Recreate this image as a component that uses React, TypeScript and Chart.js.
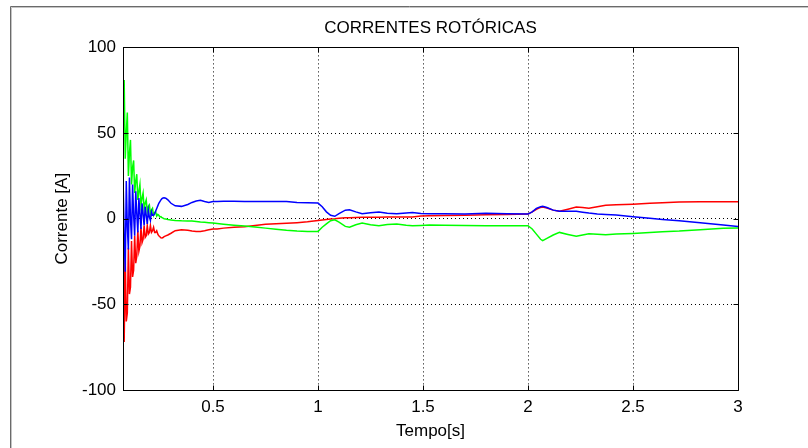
import React, { useEffect, useRef } from "react";
import { Chart, registerables } from "chart.js";

Chart.register(...registerables);

const titulo = "CORRENTES ROTÓRICAS";
const tituloX = "Tempo[s]";
const tituloY = "Corrente [A]";

const xTicks = [0.5, 1, 1.5, 2, 2.5, 3];
const yTicks = [-100, -50, 0, 50, 100];

const tempo = [
  0.072, 0.077, 0.082, 0.087, 0.092, 0.097, 0.102, 0.107, 0.112, 0.117,
  0.122, 0.127, 0.132, 0.137, 0.142, 0.147, 0.152, 0.157, 0.162, 0.167,
  0.172, 0.177, 0.182, 0.187, 0.192, 0.197, 0.202, 0.207, 0.212, 0.217,
  0.222, 0.227, 0.232, 0.237, 0.242, 0.247, 0.252, 0.257, 0.262, 0.267,
  0.275, 0.285, 0.3, 0.32, 0.35, 0.38, 0.4, 0.42, 0.44, 0.46,
  0.48, 0.5, 0.52, 0.55, 0.6, 0.65, 0.7, 0.75, 0.8, 0.85,
  0.9, 0.95, 1.0, 1.02, 1.04, 1.06, 1.08, 1.1, 1.13, 1.15,
  1.18, 1.21, 1.25, 1.29, 1.33, 1.375, 1.42, 1.45, 1.49, 1.53,
  1.6, 1.7, 1.8, 1.9, 2.0, 2.02, 2.04, 2.06, 2.07, 2.09,
  2.12, 2.15, 2.19, 2.23, 2.26, 2.29, 2.33, 2.37, 2.42, 2.5,
  2.58, 2.64, 2.72, 2.82, 2.93, 3.0,
];

// vermelho
const faseA = [
  -8, -72, -22, -60, -55, -17, -44, -40, -13, -34,
  -30, -10, -26, -22, -7, -19, -16, -5, -14, -12,
  -4, -11, -10, -4, -9, -8, -4, -8, -7, -5,
  -8, -8, -7, -9, -10, -10.5, -11.2, -11.3, -11, -10.5,
  -10, -9.5, -8.5, -7, -6.4, -6.8, -7.2, -7.4, -7.4, -7,
  -6.5, -6, -6, -5.5, -5, -4.7, -4, -3.3, -3, -2.7,
  -2.3, -1.8, -1, -0.7, -0.4, -0.2, 0, 0.3, 0.5, 0.6,
  0.7, 0.8, 0.9, 0.9, 1, 1, 1, 1, 1.6, 1.7,
  1.8, 2, 2.3, 2.5, 2.7, 4, 5.5, 6.6, 6.8, 6.2,
  5, 4.3, 5.5, 6.8, 6.5, 6.1, 7, 7.8, 8.1, 8.5,
  9, 9.3, 9.7, 9.9, 9.9, 9.9,
];

// verde
const faseB = [
  71, 81, 35, 50, 62, 25, 38, 46, 20, 30,
  34, 15, 22, 26, 11, 16, 20, 8, 12, 15,
  6, 9, 11, 4, 7, 8, 3, 5, 6, 2,
  3.5, 4, 1.5, 2.5, 2, 1, 1.2, 0.6, 0.3, 0,
  -0.2, -0.5, -0.8, -1, -1.2, -1.3, -1.4, -1.6, -1.9, -2.1,
  -2.3, -2.5, -2.8, -3.2, -3.8, -4.3, -4.8, -5.5, -6.2, -6.8,
  -7.2, -7.4, -7.4, -5, -3, -1.2, -0.6, -2, -4.5, -5,
  -3.5, -2.5, -3.5, -4.1, -3.4, -3.1, -3.8, -4.1, -3.9, -3.7,
  -3.8, -4, -4.1, -4.1, -4.1, -6, -9, -12, -12.8, -11.5,
  -9.5, -8, -9.2, -10.3, -9.5, -8.8, -9.1, -9.3, -9, -8.6,
  -8, -7.6, -7.2, -6.4, -5.6, -5.4,
];

// azul
const faseC = [
  21, -10, -31, 22, -5, -18, 24, 0, -12, 20,
  2, -10, 16, 3, -8, 12, 3, -6, 9, 3,
  -4, 7, 2, -3, 5, 1, -1, 4, 2, 2,
  3, 4.5, 6, 7.5, 9, 10, 11, 11.7, 12.1, 12.2,
  12, 11, 9, 7.5, 7.2, 8.3, 9.5, 10.3, 10.7, 10,
  9.5, 10, 10.1, 10.2, 10.2, 10.1, 10, 10, 10.1, 10,
  9.5, 9.3, 9.1, 7, 4, 2, 1.4, 3, 5, 5.2,
  4, 2.9, 3.5, 3.9, 3.2, 2.9, 3.3, 3.6, 3, 2.9,
  2.9, 2.8, 3.2, 2.9, 2.7, 4, 6, 7, 7.2, 6.5,
  5, 4.3, 4.3, 4.3, 3.8, 3.3, 2.8, 2.5, 2.1, 1.2,
  0.2, -0.4, -1.2, -2.4, -3.7, -4.5,
];

const FONT = "'Liberation Sans', Arial, sans-serif";

const moldura = {
  id: "moldura",
  beforeDraw(chart: any) {
    const ctx = chart.ctx;
    ctx.save();
    ctx.fillStyle = "#ffffff";
    ctx.fillRect(0, 0, chart.width, chart.height);
    ctx.lineWidth = 1;
    ctx.strokeStyle = "#6a6a6a";
    ctx.beginPath();
    ctx.moveTo(10.5, chart.height);
    ctx.lineTo(10.5, 6.5);
    ctx.lineTo(chart.width, 6.5);
    ctx.stroke();
    ctx.strokeStyle = "#c4c4c4";
    ctx.beginPath();
    ctx.moveTo(11.5, chart.height);
    ctx.lineTo(11.5, 7.5);
    ctx.lineTo(chart.width, 7.5);
    ctx.stroke();
    ctx.restore();
  },
  afterDraw(chart: any) {
    const ctx = chart.ctx;
    const { left, right, top, bottom } = chart.chartArea;
    const xs = chart.scales.x;
    const ys = chart.scales.y;
    ctx.save();
    ctx.strokeStyle = "#000";
    ctx.lineWidth = 1;
    ctx.beginPath();
    const L = Math.round(left) + 0.5;
    const R = Math.round(right) + 0.5;
    const T = Math.round(top) + 0.5;
    const B = Math.round(bottom) + 0.5;
    ctx.rect(L, T, R - L, B - T);
    const tl = 5;
    xTicks.forEach((v) => {
      const p = Math.round(xs.getPixelForValue(v)) + 0.5;
      ctx.moveTo(p, T);
      ctx.lineTo(p, T + tl);
      ctx.moveTo(p, B);
      ctx.lineTo(p, B - tl);
    });
    yTicks.forEach((v) => {
      const p = Math.round(ys.getPixelForValue(v)) + 0.5;
      ctx.moveTo(L, p);
      ctx.lineTo(L + tl, p);
      ctx.moveTo(R, p);
      ctx.lineTo(R - tl, p);
    });
    ctx.stroke();
    ctx.restore();
  },
};

export default function App() {
  const ref = useRef<HTMLCanvasElement | null>(null);

  useEffect(() => {
    if (!ref.current) return;
    const mk = (arr: number[]) => tempo.map((t, i) => ({ x: t, y: arr[i] }));
    const chart = new Chart(ref.current, {
      type: "line",
      data: {
        datasets: [
          { label: "Fase c", data: mk(faseC), borderColor: "#0000ff", borderWidth: 1.5 },
          { label: "Fase b", data: mk(faseB), borderColor: "#00ff00", borderWidth: 1.5 },
          { label: "Fase a", data: mk(faseA), borderColor: "#ff0000", borderWidth: 1.5 },
        ],
      },
      options: {
        animation: false,
        responsive: false,
        devicePixelRatio: 1,
        layout: { padding: { left: 0, right: 70, top: 0, bottom: 0 } },
        elements: { point: { radius: 0 }, line: { tension: 0 } },
        plugins: {
          legend: { display: false },
          tooltip: { enabled: false },
          title: {
            display: true,
            fullSize: false,
            text: titulo,
            color: "#000",
            font: { family: FONT, size: 17, weight: "normal", lineHeight: 1.2 },
            padding: { top: 18, bottom: 9 },
          },
        },
        scales: {
          x: {
            type: "linear",
            min: 0.0714,
            max: 3,
            afterBuildTicks: (s: any) => {
              s.ticks = xTicks.map((v) => ({ value: v }));
            },
            afterFit: (s: any) => {
              s.height = 58;
            },
            ticks: {
              autoSkip: false,
              maxRotation: 0,
              padding: 7,
              color: "#000",
              font: { family: FONT, size: 17 },
              callback: (v: any) => String(v),
            },
            grid: { color: "#000", lineWidth: 1, drawTicks: false },
            border: { display: false, dash: [1, 3] },
            title: {
              display: true,
              text: tituloX,
              color: "#000",
              font: { family: FONT, size: 17, lineHeight: 1.2 },
              padding: { top: 0, bottom: 6 },
            },
          },
          y: {
            type: "linear",
            min: -100,
            max: 100,
            afterBuildTicks: (s: any) => {
              s.ticks = yTicks.map((v) => ({ value: v }));
            },
            afterFit: (s: any) => {
              s.width = 123;
            },
            ticks: {
              padding: 7,
              color: "#000",
              font: { family: FONT, size: 17 },
              callback: (v: any) => String(v),
            },
            grid: { color: "#000", lineWidth: 1, drawTicks: false },
            border: { display: false, dash: [1, 3] },
            title: {
              display: true,
              text: tituloY,
              color: "#000",
              font: { family: FONT, size: 17, lineHeight: 1.2 },
              padding: { top: 52, bottom: 0 },
            },
          },
        },
      },
      plugins: [moldura],
    });
    return () => chart.destroy();
  }, []);

  return (
    <div style={{ position: "fixed", left: 0, top: 0, width: 808, height: 448, background: "#fff" }}>
      <canvas ref={ref} width={808} height={448} />
    </div>
  );
}
